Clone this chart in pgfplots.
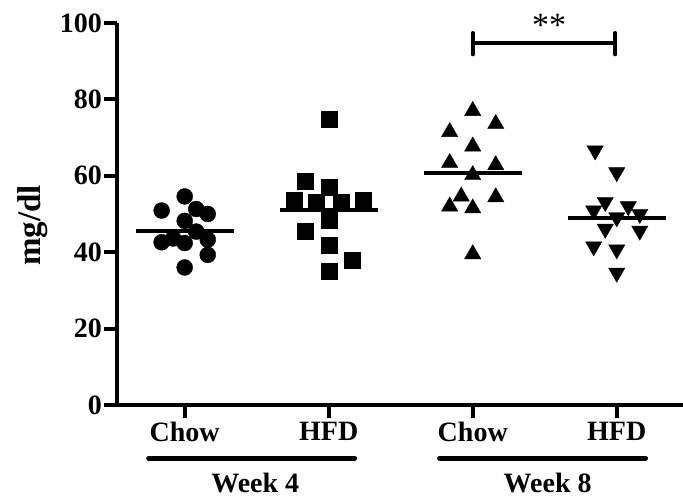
\documentclass[border=0pt]{standalone}
\usepackage{fontspec}
\setmainfont{Liberation Serif}
\usepackage{pgfplots}
\pgfplotsset{compat=1.18}
\begin{document}
\begin{tikzpicture}
\begin{axis}[
  scale only axis, width=566pt, height=382pt,
  xmin=0.53, xmax=4.46, ymin=0, ymax=100,
  axis x line*=bottom, axis y line*=left,
  axis line style={line width=4pt, black},
  tick style={line width=4pt, black},
  major tick length=13pt, tick align=outside,
  xtick={1,2,3,4}, xticklabels={Chow,HFD,Chow,HFD},
  ytick={0,20,40,60,80,100},
  /pgf/number format/assume math mode=true,
  ticklabel style={font=\fontsize{28}{30}\selectfont\bfseries, inner sep=2pt},
  xticklabel style={yshift=-2pt},
  ylabel={mg/dl},
  every axis y label/.style={at={(ticklabel cs:0.47)}, rotate=90, anchor=near ticklabel,
     font=\fontsize{33}{36}\selectfont\bfseries, inner sep=10pt},
  clip=false,
]
% Week 4 Chow
\addplot[only marks, mark=*, mark size=8pt, black] coordinates {
 (1.00,54.6) (0.84,50.9) (1.08,51.3) (1.16,50.0) (1.00,48.2) (1.08,45.4)
 (0.84,42.6) (0.92,43.6) (1.00,42.4) (1.16,43.3) (1.16,39.3) (1.00,36.0)};
% Week 4 HFD
\addplot[only marks, mark=square*, mark size=8pt, black] coordinates {
 (2.00,74.9) (1.84,58.7) (2.00,57.0) (1.76,53.5) (1.91,53.0) (2.09,53.0)
 (2.24,53.5) (2.00,48.3) (1.84,45.6) (2.00,41.9) (2.16,37.8) (2.00,34.9)};
% Week 8 Chow
\addplot[only marks, mark=triangle*, mark size=9.4pt, black] coordinates {
 (3.00,77.0) (3.16,73.6) (2.84,71.5) (3.00,67.7) (2.84,63.4) (3.16,62.8)
 (3.00,60.2) (2.92,54.6) (3.16,54.4) (2.84,52.0) (3.00,51.5) (3.00,39.5)};
% Week 8 HFD
\addplot[only marks, mark=triangle*, mark size=9.4pt, mark options={rotate=180}, black] coordinates {
 (3.85,66.6) (4.00,60.9) (3.92,53.1) (4.08,52.0) (3.84,50.9) (4.16,50.0)
 (4.00,49.1) (3.92,46.1) (4.16,45.6) (3.84,41.5) (4.00,40.7) (4.00,34.6)};
% means
\addplot[line width=4pt, black] coordinates {(0.66,45.6) (1.34,45.6)};
\addplot[line width=4pt, black] coordinates {(1.66,51.0) (2.34,51.0)};
\addplot[line width=4pt, black] coordinates {(2.66,60.8) (3.34,60.8)};
\addplot[line width=4pt, black] coordinates {(3.66,49.0) (4.34,49.0)};
% significance bracket
\addplot[line width=4pt, black] coordinates {(3.0,94.8) (3.99,94.8)};
\addplot[line width=4pt, black, line cap=round] coordinates {(3.0,91.8) (3.0,97.4)};
\addplot[line width=4pt, black, line cap=round] coordinates {(3.99,91.8) (3.99,97.4)};
\node[font=\fontsize{34}{36}\selectfont] at (axis cs:3.53,99.3) {**};
% group labels
\draw[line width=5pt, line cap=round] (axis cs:0.75,-13.9) -- (axis cs:2.18,-13.9);
\draw[line width=5pt, line cap=round] (axis cs:2.77,-13.9) -- (axis cs:4.20,-13.9);
\node[anchor=base, font=\fontsize{28}{30}\selectfont\bfseries] at (axis cs:1.49,-22.8) {Week 4};
\node[anchor=base, font=\fontsize{28}{30}\selectfont\bfseries] at (axis cs:3.52,-22.8) {Week 8};
\end{axis}
\pgfresetboundingbox
\useasboundingbox (-117pt,-92pt) rectangle (566pt,405pt);
\end{tikzpicture}
\end{document}
